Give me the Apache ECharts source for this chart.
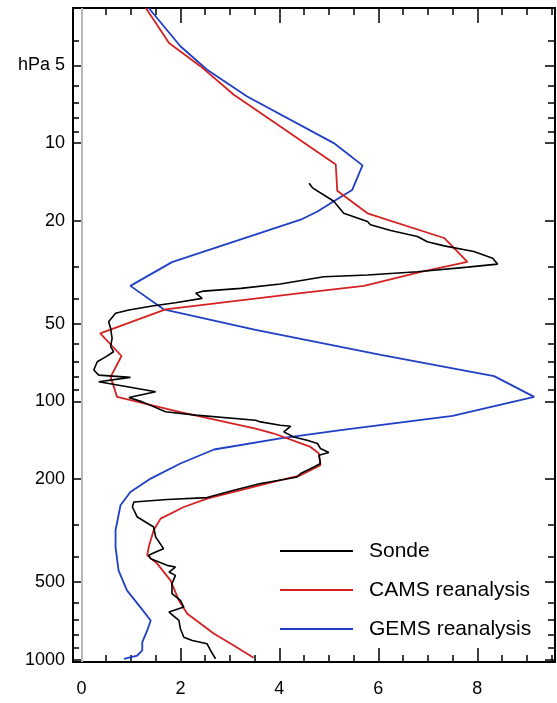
<!DOCTYPE html>
<html>
<head>
<meta charset="utf-8">
<script src="https://cdn.jsdelivr.net/npm/echarts@6/dist/echarts.min.js"></script>
<style>
  html, body { margin: 0; padding: 0; background: #fff; }
  #chart { width: 557px; height: 703px; }
</style>
</head>
<body>
<div id="chart"></div>
<script>
// Ozone profiles: mixing ratio (x) against pressure in hPa (log, inverted)

// Tick positions
const xMajorTicks = [0, 2, 4, 6, 8];
const xMinorTicks = [0.5, 1, 1.5, 2.5, 3, 3.5, 4.5, 5, 5.5, 6.5, 7, 7.5, 8.5, 9, 9.5];
const pMajorTicks = [5, 10, 20, 50, 100, 200, 500, 1000];
const pMinorTicks = [4, 6, 7, 8, 9, 30, 40, 60, 70, 80, 90, 300, 400, 600, 700, 800, 900];

// Sonde profile
const sondeX = [4.60, 4.67, 5.10, 5.30, 5.78, 5.84, 6.25, 6.79, 6.99, 7.33, 7.93, 8.31, 8.41, 7.80, 6.79, 5.78,
  4.90, 4.02, 3.22, 2.47, 2.31, 2.44, 1.90, 1.43, 0.96, 0.69, 0.55, 0.59, 0.62, 0.59, 0.65, 0.49, 0.32, 0.25,
  0.35, 0.99, 0.35, 1.13, 1.50, 0.96, 1.23, 1.70, 2.31, 3.52, 3.62, 4.02, 4.23, 4.09, 4.29, 4.56, 4.77, 4.83,
  5.00, 4.80, 4.83, 4.70, 4.43, 4.36, 4.09, 3.62, 3.08, 2.54, 1.73, 1.06, 1.03, 1.13, 1.46, 1.50, 1.66, 1.50,
  1.36, 1.40, 1.73, 1.90, 1.77, 1.90, 1.83, 1.83, 2.00, 2.07, 1.77, 1.97, 2.00, 2.07, 2.24, 2.54, 2.61, 2.71];
const sondeP = [14.3, 14.9, 16.8, 18.7, 20.1, 20.7, 21.8, 23.0, 24.1, 25.0, 26.3, 27.9, 29.4, 30.2, 31.5, 32.4,
  32.9, 35.1, 36.5, 37.4, 38.1, 39.9, 41.5, 42.7, 44.3, 45.6, 49.2, 52.1, 57.0, 61.4, 64.2, 67.2, 70.2, 75.6,
  79.1, 80.7, 83.9, 89.1, 91.8, 96.5, 100.4, 109.7, 113.0, 118.2, 120.0, 123.6, 124.7, 131.2, 137.2, 141.3, 145.5, 152.1,
  157.6, 161.5, 173.9, 179.3, 190.1, 196.0, 200.6, 207.9, 220.7, 235.6, 239.8, 245.0, 256.2, 280.2, 306.3, 334.8, 371.4, 382.8,
  394.2, 406.0, 431.0, 437.6, 457.6, 471.3, 507.5, 554.9, 589.2, 625.4, 653.9, 704.2, 758.6, 817.6, 841.8, 867.0, 920.4, 991.1];

// CAMS reanalysis
const camsX = [1.30, 1.46, 1.77, 2.41, 3.08, 4.02, 5.14, 5.17, 5.78, 7.33, 7.80, 6.86, 5.71, 4.43, 1.70, 0.38,
  0.81, 0.59, 0.72, 2.00, 3.52, 3.89, 4.63, 4.80, 4.83, 4.43, 4.02, 2.54, 2.07, 1.60, 1.46, 1.36, 1.33, 1.53,
  1.80, 1.97, 2.14, 2.68, 3.08, 3.48];
const camsP = [3.0, 3.33, 4.10, 5.05, 6.50, 8.63, 12.1, 15.3, 18.7, 23.3, 28.8, 31.5, 35.7, 38.1, 44.0, 54.5,
  66.7, 80.3, 96.0, 110.0, 127.3, 133.1, 150.0, 159.1, 176.6, 193.1, 201.8, 237.7, 256.2, 284.1, 315.3, 366.1, 394.2, 424.6,
  492.7, 589.2, 663.2, 792.9, 880.2, 982.2];

// GEMS reanalysis
const gemsX = [1.36, 2.00, 2.54, 3.35, 5.10, 5.68, 5.47, 5.10, 4.77, 4.43, 1.83, 0.99, 1.66, 3.52, 6.05, 8.34,
  9.15, 7.50, 5.24, 4.02, 2.68, 2.00, 1.40, 0.99, 0.79, 0.69, 0.69, 0.75, 0.92, 1.19, 1.40, 1.33, 1.23, 1.23,
  1.13, 0.86];
const gemsP = [3.0, 4.22, 5.20, 6.60, 10.0, 12.2, 15.2, 16.8, 18.4, 19.8, 28.9, 35.7, 44.0, 52.9, 66.1, 79.8,
  96.0, 113.7, 129.2, 139.1, 153.5, 173.9, 198.9, 224.0, 252.3, 315.3, 366.1, 450.7, 538.7, 625.4, 704.2, 769.9, 854.6, 920.4,
  962.6, 991.1];

const pairs = (xs, ps) => xs.map((x, i) => [x, ps[i]]);

const FONT = "'Liberation Sans', Arial, sans-serif";
const X_MIN = -0.17, X_MAX = 9.57;
const P_TOP = 3, P_BOTTOM = 1020;

function xAxisDef(position, ticks, len, showLine, showLabel) {
  return {
    type: 'value', position, min: X_MIN, max: X_MAX,
    axisLine: { show: showLine, onZero: false, lineStyle: { color: '#000', width: 2 } },
    axisTick: { show: true, inside: true, length: len, customValues: ticks, lineStyle: { color: '#000', width: 1.5 } },
    axisLabel: showLabel ? {
      show: true, customValues: ticks, margin: 18, color: '#000', fontSize: 18, fontFamily: FONT
    } : { show: false },
    splitLine: { show: false }
  };
}

function yAxisDef(position, ticks, len, showLine, showLabel) {
  return {
    type: 'log', logBase: 10, position, inverse: true, min: P_TOP, max: P_BOTTOM,
    axisLine: { show: showLine, onZero: false, lineStyle: { color: '#000', width: 2 } },
    axisTick: { show: true, inside: true, length: len, customValues: ticks, lineStyle: { color: '#000', width: 1.5 } },
    axisLabel: showLabel ? {
      show: true, customValues: ticks, margin: 8, color: '#000', fontSize: 18, fontFamily: FONT,
      formatter: v => (Math.round(v) === 5 ? 'hPa 5' : String(Math.round(v)))
    } : { show: false },
    splitLine: { show: false }
  };
}

const chart = echarts.init(document.getElementById('chart'), null, { renderer: 'canvas' });

chart.setOption({
  animation: false,
  backgroundColor: '#fff',
  grid: { left: 73, right: 2, top: 8, bottom: 41, containLabel: false },
  xAxis: [
    xAxisDef('bottom', xMajorTicks, 14, true, true),
    xAxisDef('bottom', xMinorTicks, 7, false, false),
    xAxisDef('top', xMajorTicks, 15, true, false),
    xAxisDef('top', xMinorTicks, 7, false, false)
  ],
  yAxis: [
    yAxisDef('left', pMajorTicks, 10, true, true),
    yAxisDef('left', pMinorTicks, 6, false, false),
    yAxisDef('right', pMajorTicks, 10, true, false),
    yAxisDef('right', pMinorTicks, 7, false, false)
  ],
  legend: {
    data: ['Sonde', 'CAMS reanalysis', 'GEMS reanalysis'],
    orient: 'vertical', left: 280, top: 540, padding: 0,
    itemWidth: 73, itemHeight: 2, itemGap: 17, icon: 'rect',
    textStyle: { fontSize: 21, lineHeight: 22, fontFamily: FONT, color: '#000', padding: [0, 0, 0, 11] }
  },
  series: [
    {
      name: 'GEMS reanalysis', type: 'line', data: pairs(gemsX, gemsP),
      showSymbol: false, color: '#1f3fc4', lineStyle: { width: 1.8, color: '#1f3fc4' },
      markLine: {
        silent: true, symbol: 'none', label: { show: false },
        lineStyle: { color: '#b8b8b8', width: 2, type: 'solid' },
        data: [{ xAxis: 0 }]
      }
    },
    {
      name: 'CAMS reanalysis', type: 'line', data: pairs(camsX, camsP),
      showSymbol: false, color: '#d42222', lineStyle: { width: 1.8, color: '#d42222' }
    },
    {
      name: 'Sonde', type: 'line', data: pairs(sondeX, sondeP),
      showSymbol: false, color: '#000', lineStyle: { width: 1.6, color: '#000' }
    }
  ]
});
</script>
</body>
</html>
